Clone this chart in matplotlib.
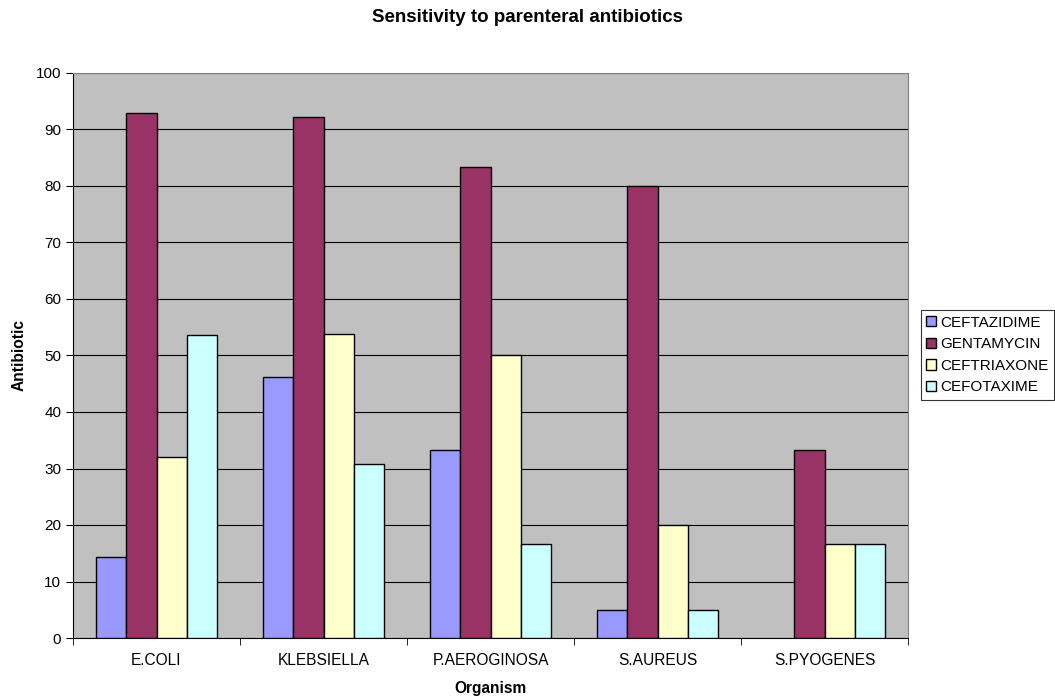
import matplotlib
matplotlib.use("Agg")
import matplotlib.pyplot as plt
import numpy as np

plt.rcParams['font.family'] = ['Liberation Sans', 'DejaVu Sans']

organisms = ["E.COLI", "KLEBSIELLA", "P.AEROGINOSA", "S.AUREUS", "S.PYOGENES"]
ceftazidime = [14.3, 46.2, 33.3, 5.0, 0.0]
gentamycin = [92.9, 92.3, 83.3, 80.0, 33.3]
ceftriaxone = [32.1, 53.8, 50.0, 20.0, 16.7]
cefotaxime = [53.6, 30.8, 16.7, 5.0, 16.7]

series = [("CEFTAZIDIME", ceftazidime, "#9999FF"),
          ("GENTAMYCIN", gentamycin, "#993366"),
          ("CEFTRIAXONE", ceftriaxone, "#FFFFCC"),
          ("CEFOTAXIME", cefotaxime, "#CCFFFF")]

fig = plt.figure(figsize=(10.55, 6.98), dpi=100)
ax = fig.add_axes([73/1055, 1-638/698, (908-73)/1055, (638-73)/698])
ax.set_facecolor("#C0C0C0")

n = len(series)
w = 1/(n+1.5)
x = np.arange(len(organisms))
for i, (name, vals, col) in enumerate(series):
    bars = ax.bar(x - 0.5 + 0.75*w + (i+0.5)*w, vals, width=w, color=col,
                  edgecolor="black", linewidth=1.0, label=name, zorder=3)
    for b, v in zip(bars, vals):
        if v == 0:
            b.set_visible(False)

ax.set_xlim(-0.5, len(organisms)-0.5)
ax.set_ylim(0, 100)
ax.set_yticks(range(0, 101, 10))
ax.yaxis.grid(True, color="black", linewidth=0.8, zorder=0)
ax.set_axisbelow(True)
ax.set_xticks(x)
ax.set_xticklabels(organisms, fontsize=11.2)
ax.set_xticks(np.arange(-0.5, len(organisms), 1), minor=True)
ax.tick_params(axis='x', which='major', length=0, pad=11)
ax.tick_params(axis='x', which='minor', length=5, direction='out')
ax.tick_params(axis='y', length=5, direction='out', labelsize=11)
for s in ["top", "right"]:
    ax.spines[s].set_color("#808080")
for s in ["left", "bottom"]:
    ax.spines[s].set_color("black")

ax.set_xlabel("Organism", fontsize=11.2, fontweight="bold", labelpad=9)
fig.text(19/1055, 1-355/698, "Antibiotic", rotation=90, ha="center", va="center",
         fontsize=11.2, fontweight="bold")
fig.text(528/1055, 1-17/698, "Sensitivity to parenteral antibiotics",
         ha="center", va="center", fontsize=13.5, fontweight="bold")

leg = ax.legend(loc="center left", bbox_to_anchor=(921/1055, 1-355/698),
                bbox_transform=fig.transFigure, frameon=True, fancybox=False,
                edgecolor="black", fontsize=11, handlelength=0.65,
                handleheight=0.65, handletextpad=0.25, borderpad=0.35,
                labelspacing=0.5, borderaxespad=0)
leg.get_frame().set_linewidth(0.8)

fig.savefig("out.png", dpi=100, facecolor="white")
